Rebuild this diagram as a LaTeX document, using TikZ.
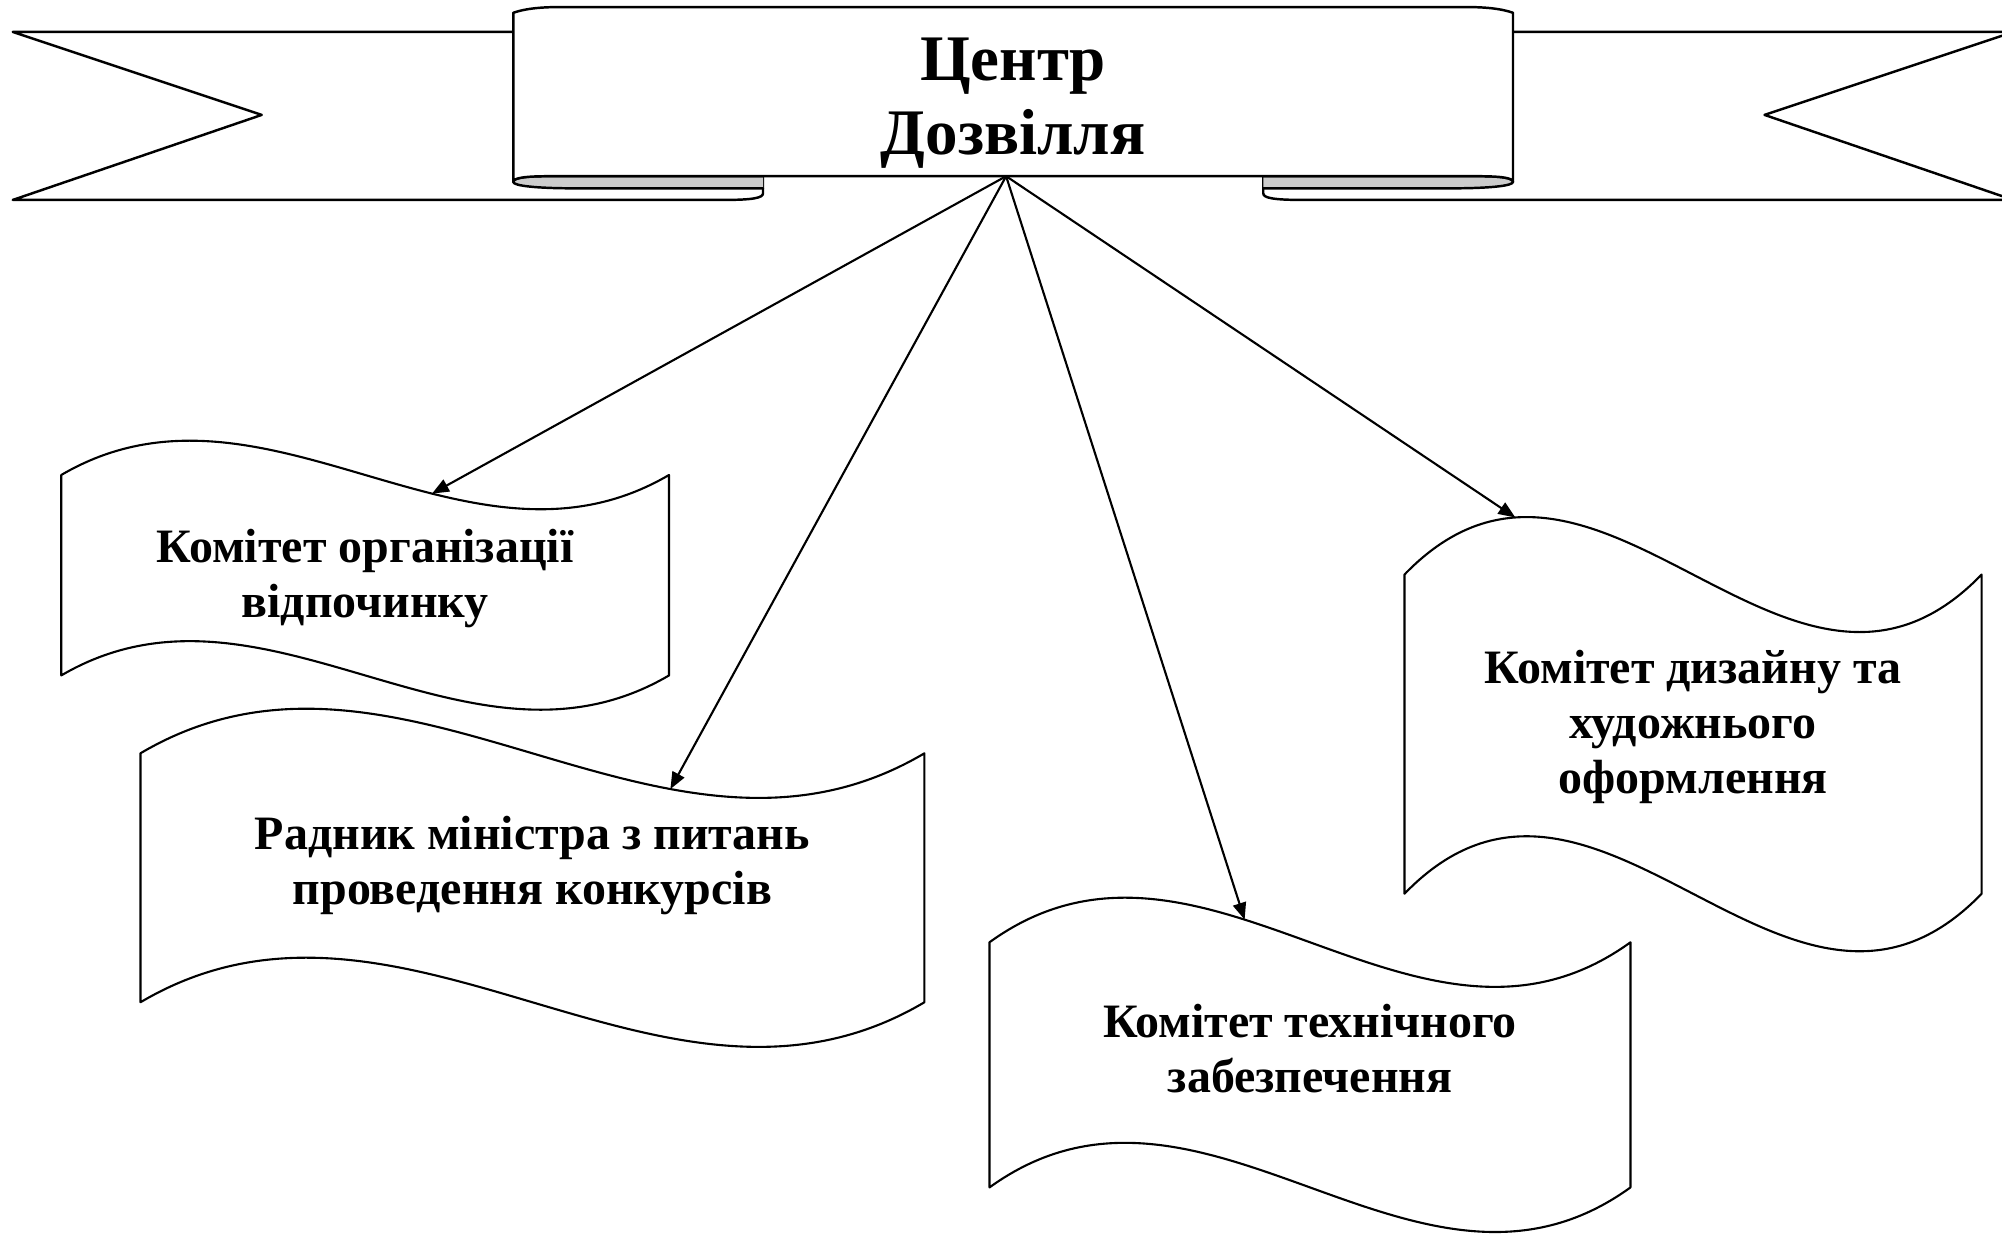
\documentclass[tikz,border=0pt]{standalone}
\usepackage{fontspec}
\setmainfont{Liberation Serif}
\usetikzlibrary{arrows.meta}

\tikzset{
  band/.style={line width=.7pt},
  fold/.style={band,fill=gray!40},
  wave/.style={line width=.6pt,fill=white},
  boxtext/.style={align=center,font=\fontsize{13.65}{15.6}\selectfont\bfseries},
  arr/.style={line width=.6pt,-{Triangle[length=4.8pt,width=3.8pt]}}
}
% #1 name, #2 x, #3 y, #4 width, #5 height, #6 wave, #7 pos of arrow end
\newcommand{\wavebox}[7]{%
  \draw[wave] (#2,#3)
    .. controls ({#2+#4/3},{#3-#6}) and ({#2+2*#4/3},{#3+#6}) .. ({#2+#4},#3)
       coordinate[pos=#7] (#1-top)
    -- ({#2+#4},{#3+#5})
    .. controls ({#2+2*#4/3},{#3+#5+#6}) and ({#2+#4/3},{#3+#5-#6}) .. (#2,{#3+#5})
    -- cycle;}

\begin{document}
\begin{tikzpicture}[x=0.012768cm,y=-0.012768cm,line cap=round,line join=round]
  \useasboundingbox (0,0) rectangle (1568,968.8);
  % banner tails
  \draw[band] (402,25) -- (10,25) -- (205,90) -- (10,156.6) -- (566,156.6)
    .. controls (590,156.6) and (597.6,155) .. (597.6,151.4) -- (597.6,138);
  \draw[band] (1185,25) -- (1568,25) (1568,28) -- (1382,90) -- (1568,153.6)
    (1568,156.6) -- (1021,156.6)
    .. controls (997,156.6) and (989.4,155) .. (989.4,151.4) -- (989.4,138);
  \filldraw[fold] (597.6,138) -- (430,138) .. controls (410,138) and (402,139.5) .. (402,142.5)
    .. controls (402,145.5) and (420,147.5) .. (450,147.5) -- (597.6,147.5);
  \filldraw[fold] (989.4,138) -- (1157,138) .. controls (1177,138) and (1185,139.5) .. (1185,142.5)
    .. controls (1185,145.5) and (1167,147.5) .. (1137,147.5) -- (989.4,147.5);
  % banner front
  \draw[band,fill=white] (402,142.5) -- (402,10) .. controls (412,6.5) and (425,5.5) .. (440,5.5)
    -- (1147,5.5) .. controls (1162,5.5) and (1175,6.5) .. (1185,10) -- (1185,142.5)
    .. controls (1185,139.5) and (1177,138) .. (1157,138) -- (430,138)
    .. controls (410,138) and (402,139.5) .. (402,142.5) -- cycle;
  \node[align=center,font=\fontsize{18.5}{21}\selectfont\bfseries] (centre) at (793.5,80.5)
    {Центр\\Дозвілля};
  \coordinate (hub) at (788,138);

  % committees
  \wavebox{org}{48}{372}{476}{157}{93}{0.61}
  \wavebox{adv}{110}{590}{614}{195}{121}{0.676}
  \wavebox{tech}{775}{738}{502}{192}{121}{0.398}
  \wavebox{des}{1100}{450}{452}{250}{156}{0.192}
  \node[boxtext] (org) at (286,453) {Комітет організації\\відпочинку};
  \node[boxtext] (adv) at (417,678) {Радник міністра з питань\\проведення конкурсів};
  \node[boxtext] (tech) at (1026,821) {Комітет технічного\\забезпечення};
  \node[boxtext] (des) at (1326,569.5) {Комітет дизайну та\\художнього\\оформлення};

  \foreach \b in {org,adv,tech,des}
    \draw[arr] (hub) -- (\b-top);
\end{tikzpicture}
\end{document}
